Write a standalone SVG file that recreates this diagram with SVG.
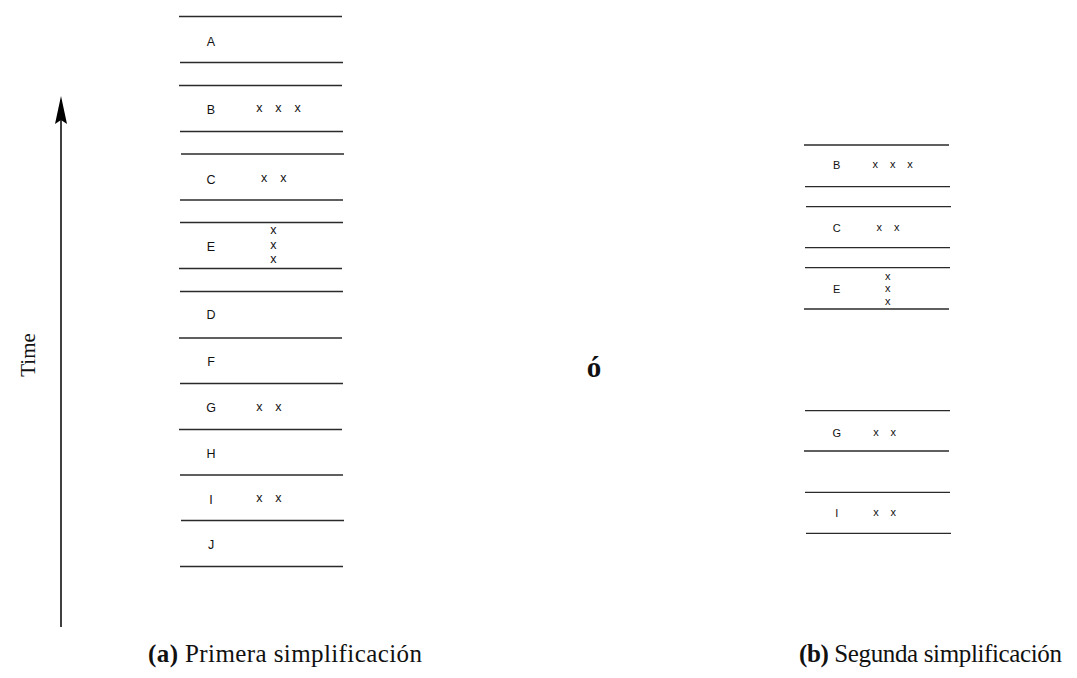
<svg xmlns="http://www.w3.org/2000/svg" width="1077" height="678" viewBox="0 0 1077 678">
<defs>
<style>
.r{stroke:#2a2a2a;stroke-width:1.3;fill:none}
.l{font-family:"Liberation Sans",Arial,sans-serif;font-size:12.5px;fill:#111;text-anchor:middle}
.s{font-family:"Liberation Sans",Arial,sans-serif;font-size:11px;fill:#111;text-anchor:middle}
.cap{font-family:"Liberation Serif","Times New Roman",serif;font-size:25px;fill:#111}
</style>
</defs>
<rect width="1077" height="678" fill="#fff"/>

<g id="axis">
<line x1="61" y1="627" x2="61" y2="100" stroke="#000" stroke-width="1.5"/>
<path d="M61 96 L67 124 L61 120 L55 124 Z" fill="#000"/>
<text transform="translate(35,355) rotate(-90)" text-anchor="middle" font-family="'Liberation Serif','Times New Roman',serif" font-size="21" fill="#111">Time</text>
</g>

<g id="panel-a">
<g id="a-A"><line class="r" x1="179" y1="16.5" x2="342" y2="16.5"/><line class="r" x1="180" y1="62.5" x2="343" y2="62.5"/><text class="l" x="211" y="45.5">A</text></g>
<g id="a-B"><line class="r" x1="179" y1="85.5" x2="342" y2="85.5"/><line class="r" x1="180" y1="131.5" x2="343" y2="131.5"/><text class="l" x="211" y="113.5">B</text><text class="l" x="259.3" y="112.3">x</text><text class="l" x="278.3" y="112.3">x</text><text class="l" x="297.7" y="112.3">x</text></g>
<g id="a-C"><line class="r" x1="181" y1="154" x2="344" y2="154"/><line class="r" x1="180" y1="200" x2="343" y2="200"/><text class="l" x="211" y="183.5">C</text><text class="l" x="264" y="182.3">x</text><text class="l" x="283.3" y="182.3">x</text></g>
<g id="a-E"><line class="r" x1="180" y1="222.5" x2="343" y2="222.5"/><line class="r" x1="179" y1="268.5" x2="342" y2="268.5"/><text class="l" x="211" y="251.2">E</text><text class="l" x="273.3" y="234.3">x</text><text class="l" x="273.3" y="249.3">x</text><text class="l" x="273.3" y="262.6">x</text></g>
<g id="a-D"><line class="r" x1="180" y1="291.5" x2="343" y2="291.5"/><line class="r" x1="179" y1="338" x2="342" y2="338"/><text class="l" x="211" y="319.2">D</text></g>
<g id="a-F"><line class="r" x1="180" y1="383.5" x2="343" y2="383.5"/><text class="l" x="211" y="365.5">F</text></g>
<g id="a-G"><line class="r" x1="179" y1="429.5" x2="342" y2="429.5"/><text class="l" x="211" y="412.2">G</text><text class="l" x="259.3" y="411">x</text><text class="l" x="278.3" y="411">x</text></g>
<g id="a-H"><line class="r" x1="180" y1="475" x2="343" y2="475"/><text class="l" x="211" y="457.8">H</text></g>
<g id="a-I"><line class="r" x1="181" y1="520.5" x2="344" y2="520.5"/><text class="l" x="211" y="503.5">I</text><text class="l" x="259.3" y="502.3">x</text><text class="l" x="278.3" y="502.3">x</text></g>
<g id="a-J"><line class="r" x1="180" y1="566.5" x2="343" y2="566.5"/><text class="l" x="211" y="548.5">J</text></g>
</g>

<g id="or"><text x="594" y="377" text-anchor="middle" font-family="'Liberation Serif','Times New Roman',serif" font-size="29" font-weight="bold" fill="#111">ó</text></g>

<g id="panel-b">
<g id="b-B"><line class="r" x1="804" y1="145" x2="949" y2="145"/><line class="r" x1="805" y1="186.7" x2="950" y2="186.7"/><text class="s" x="836.7" y="169.3">B</text><text class="s" x="875.3" y="168.3">x</text><text class="s" x="892.7" y="168.3">x</text><text class="s" x="910" y="168.3">x</text></g>
<g id="b-C"><line class="r" x1="806" y1="206.7" x2="951" y2="206.7"/><line class="r" x1="805" y1="247.7" x2="950" y2="247.7"/><text class="s" x="836.7" y="231.7">C</text><text class="s" x="879.3" y="230.7">x</text><text class="s" x="896.7" y="230.7">x</text></g>
<g id="b-E"><line class="r" x1="805" y1="267.7" x2="950" y2="267.7"/><line class="r" x1="804" y1="309" x2="949" y2="309"/><text class="s" x="836.7" y="293.3">E</text><text class="s" x="887.7" y="279.7">x</text><text class="s" x="887.7" y="292.3">x</text><text class="s" x="887.7" y="304.7">x</text></g>
<g id="b-G"><line class="r" x1="805" y1="410.7" x2="950" y2="410.7"/><line class="r" x1="804" y1="451" x2="949" y2="451"/><text class="s" x="836.7" y="436.7">G</text><text class="s" x="876" y="435.7">x</text><text class="s" x="893.3" y="435.7">x</text></g>
<g id="b-I"><line class="r" x1="805" y1="492.3" x2="950" y2="492.3"/><line class="r" x1="806" y1="533.3" x2="951" y2="533.3"/><text class="s" x="836.7" y="517.3">I</text><text class="s" x="876" y="516.3">x</text><text class="s" x="893.3" y="516.3">x</text></g>
</g>

<g id="captions">
<text class="cap" x="148" y="662" textLength="274" lengthAdjust="spacing"><tspan font-weight="bold">(a)</tspan> Primera simplificación</text>
<text class="cap" x="799" y="662" textLength="263" lengthAdjust="spacing"><tspan font-weight="bold">(b)</tspan> Segunda simplificación</text>
</g>
</svg>
